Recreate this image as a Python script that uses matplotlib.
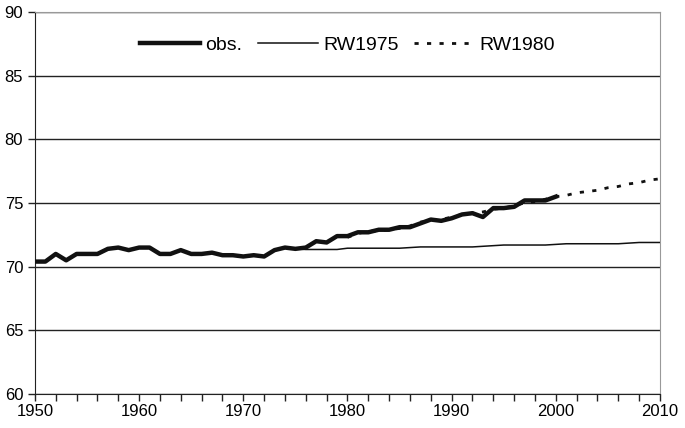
import numpy as np
import matplotlib.pyplot as plt
from matplotlib.ticker import MultipleLocator

plt.rcParams['font.family'] = ['Liberation Sans', 'DejaVu Sans']

# observed values 1950-2000
obs_years = list(range(1950, 2001))
obs = [70.4, 70.4, 71.0, 70.5, 71.0, 71.0, 71.0, 71.4, 71.5, 71.3,
       71.5, 71.5, 71.0, 71.0, 71.3, 71.0, 71.0, 71.1, 70.9, 70.9,
       70.8, 70.9, 70.8, 71.3, 71.5, 71.4, 71.5, 72.0, 71.9, 72.4,
       72.4, 72.7, 72.7, 72.9, 72.9, 73.1, 73.1, 73.4, 73.7, 73.6,
       73.8, 74.1, 74.2, 73.9, 74.6, 74.6, 74.7, 75.2, 75.2, 75.2,
       75.5]

# RW1975 forecast 1975-2010
rw75_years = list(range(1975, 2011))
rw75 = [71.4, 71.35, 71.35, 71.35, 71.35, 71.45, 71.45, 71.45, 71.45, 71.45,
        71.45, 71.5, 71.55, 71.55, 71.55, 71.55, 71.55, 71.55, 71.6, 71.65,
        71.7, 71.7, 71.7, 71.7, 71.7, 71.75, 71.8, 71.8, 71.8, 71.8,
        71.8, 71.8, 71.85, 71.9, 71.9, 71.9]

# RW1980 forecast 1980-2010
rw80_years = list(range(1980, 2011))
rw80 = [72.3, 72.6, 72.8, 72.8, 72.9, 73.0, 73.2, 73.5, 73.6, 73.7,
        73.9, 74.1, 74.2, 74.3, 74.5, 74.6, 74.8, 75.0, 75.1, 75.3,
        75.5, 75.6, 75.8, 75.9, 76.0, 76.2, 76.3, 76.5, 76.6, 76.8,
        76.9]

fig = plt.figure(figsize=(6.85, 4.28), dpi=100)
ax = fig.add_axes([0.051, 0.0794, 0.9125, 0.8926])

ax.plot(obs_years, obs, color='#111111', lw=3.2, label='obs.', zorder=4)
ax.plot(rw75_years, rw75, color='#111111', lw=1.1, label='RW1975', zorder=3)
ax.plot(rw80_years, rw80, color='#111111', lw=2.0, linestyle=(0, (1.5, 3)),
        label='RW1980', zorder=3)

ax.set_xlim(1950, 2010)
ax.set_ylim(60, 90)
ax.set_xticks(range(1950, 2011, 10))
ax.xaxis.set_minor_locator(MultipleLocator(2))
ax.set_yticks(range(60, 91, 5))
ax.yaxis.grid(True, color='#222222', lw=1.0)
ax.set_axisbelow(True)
ax.tick_params(axis='both', which='both', direction='out', length=5,
               width=1, labelsize=12, color='#222222')
ax.tick_params(axis='x', pad=2)

for s in ['top', 'right']:
    ax.spines[s].set_color('#999999')
for s in ['left', 'bottom']:
    ax.spines[s].set_color('#222222')

ax.legend(loc='center', bbox_to_anchor=(0.5, 0.914), ncol=3,
          frameon=False, fontsize=14, handlelength=3.1, handletextpad=0.25,
          columnspacing=0.8, borderpad=0)

fig.savefig('out.png', dpi=100)
